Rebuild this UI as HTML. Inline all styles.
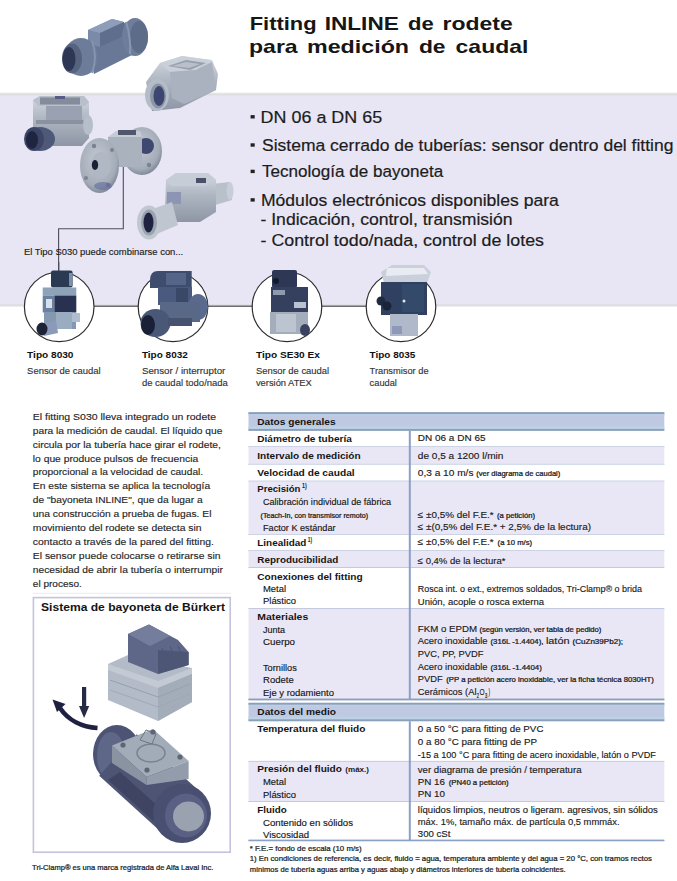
<!DOCTYPE html>
<html><head><meta charset="utf-8"><style>
html,body{margin:0;padding:0;background:#fff;}
svg{display:block;}
text{font-family:"Liberation Sans",sans-serif;}
</style></head><body>
<svg width="677" height="881" viewBox="0 0 677 881">
<defs>
<linearGradient id="gtop" x1="0" y1="0" x2="0" y2="1"><stop offset="0" stop-color="#ffffff"/><stop offset="0.5" stop-color="#dcdcdc"/><stop offset="1" stop-color="#e6e4f2"/></linearGradient>
<linearGradient id="gbot" x1="0" y1="0" x2="0" y2="1"><stop offset="0" stop-color="#e2e0ee"/><stop offset="0.4" stop-color="#dddddd"/><stop offset="1" stop-color="#ffffff"/></linearGradient>
</defs>
<rect width="677" height="881" fill="#fff"/>
<!-- lavender band -->
<rect x="0" y="92" width="677" height="4" fill="url(#gtop)"/>
<rect x="0" y="96" width="677" height="208" fill="#e8e6f4"/>
<rect x="0" y="304" width="677" height="3.5" fill="url(#gbot)"/>
<defs>
<linearGradient id="pvc" x1="0" y1="0" x2="0" y2="1"><stop offset="0" stop-color="#8494b0"/><stop offset="0.5" stop-color="#6a7a98"/><stop offset="1" stop-color="#4e5c7a"/></linearGradient>
<linearGradient id="ss" x1="0" y1="0" x2="0" y2="1"><stop offset="0" stop-color="#d4dae2"/><stop offset="0.45" stop-color="#aeb6c2"/><stop offset="1" stop-color="#8e96a6"/></linearGradient>
<linearGradient id="ssh" x1="0" y1="0" x2="1" y2="0"><stop offset="0" stop-color="#9aa2b0"/><stop offset="0.5" stop-color="#c8cfd8"/><stop offset="1" stop-color="#9098a8"/></linearGradient>
<linearGradient id="dk" x1="0" y1="0" x2="0" y2="1"><stop offset="0" stop-color="#45506e"/><stop offset="1" stop-color="#2a3250"/></linearGradient>
<radialGradient id="flange" cx="0.45" cy="0.4" r="0.6"><stop offset="0" stop-color="#c4cad4"/><stop offset="0.8" stop-color="#a4acb8"/><stop offset="1" stop-color="#838b9a"/></radialGradient>
<linearGradient id="grey" x1="0" y1="0" x2="0" y2="1"><stop offset="0" stop-color="#ccd0da"/><stop offset="1" stop-color="#a8aebc"/></linearGradient>
<linearGradient id="slate" x1="0" y1="0" x2="1" y2="1"><stop offset="0" stop-color="#6a7090"/><stop offset="1" stop-color="#4a5070"/></linearGradient>
</defs>
<g id="f1">
<path d="M86,42 L126,22 L134,54 L94,74 Z" fill="#687896"/>
<path d="M88,30 L112,19 L124,22 L124,36 L100,47 L88,44 Z" fill="#7a8aa8"/>
<path d="M88,30 L112,19 L124,22 L100,33 Z" fill="#8e9eba"/>
<path d="M100,33 L124,22 L124,36 L100,47 Z" fill="#5e6e8c"/>
<ellipse cx="135" cy="37" rx="13" ry="19" fill="#6d7d9b"/>
<ellipse cx="139" cy="37" rx="9" ry="16" fill="#5d6c89"/>
<path d="M126,22 Q131,37 130,54" fill="none" stroke="#8797b3" stroke-width="2"/>
<ellipse cx="81" cy="57" rx="17" ry="19" fill="#6c7c99"/>
<path d="M92,41 Q98,57 92,73" fill="none" stroke="#8595b1" stroke-width="2"/>
<ellipse cx="72" cy="58.5" rx="10" ry="15" fill="#55637f"/>
<ellipse cx="69" cy="59" rx="6.5" ry="12" fill="#2f3756"/>
</g>
<g id="f2">
<path d="M146,82 L160,63 L182,56 L212,60 L218,74 L216,90 L180,108 L152,111 Z" fill="url(#ss)"/>
<path d="M160,63 L182,56 L210,60 L196,70 L170,72 Z" fill="#c9d0d9"/>
<path d="M170,72 L196,70 L212,62 L216,90 L184,104 L172,98 Z" fill="#aab2bf"/>
<path d="M168,66 L186,60 L206,63 L190,70 Z" fill="#98a0ae"/>
<path d="M172,66 L186,62 L200,64 L189,68 Z" fill="#b9c0ca"/>
<ellipse cx="157" cy="95" rx="12" ry="16" fill="#b4bcc8"/>
<ellipse cx="158" cy="96" rx="8" ry="12.5" fill="#8c94a6"/>
<ellipse cx="159" cy="96" rx="5.5" ry="10" fill="#3c4670"/>
</g>
<g id="f3">
<path d="M33,100 L40,96 L84,96 L89,102 L89,138 L82,146 L40,146 L33,140 Z" fill="url(#ss)"/>
<path d="M33,100 L40,96 L84,96 L89,102 L85,106 L38,106 Z" fill="#b9c0cb"/>
<rect x="40" y="97.5" width="40" height="7" fill="#6e7688" opacity="0.7"/>
<rect x="55" y="96" width="10" height="3" fill="#5a5a86"/>
<rect x="46" y="106" width="36" height="14" fill="#9aa2b2"/>
<rect x="36" y="120" width="50" height="4" fill="#8a92a2"/>
<ellipse cx="88" cy="125" rx="5" ry="10" fill="#b6bec9"/>
<ellipse cx="40" cy="139" rx="15" ry="12" fill="#4e5878"/>
<ellipse cx="34" cy="139" rx="10" ry="12" fill="#3c4566"/>
<ellipse cx="32" cy="140" rx="6" ry="9" fill="#1f2540"/>
</g>
<g id="f4">
<ellipse cx="142" cy="151" rx="20" ry="24" fill="url(#flange)"/>
<ellipse cx="146" cy="146" rx="8" ry="8" fill="#3e4870"/>
<rect x="108" y="137" width="34" height="30" fill="#aab2be"/>
<path d="M108,137 L116,131 L140,131 L142,137 Z" fill="#c4cbd5"/>
<rect x="118" y="130" width="18" height="5" fill="#50586e"/>
<ellipse cx="99.5" cy="165.5" rx="19.5" ry="27.5" fill="url(#flange)"/>
<ellipse cx="101" cy="165" rx="10" ry="13" fill="#b0b8c4"/>
<ellipse cx="95" cy="165" rx="3.2" ry="5" fill="#1c2034"/>
<circle cx="94" cy="146" r="2.2" fill="#7a8294"/><circle cx="108" cy="185" r="2.2" fill="#6a7080"/>
<circle cx="86" cy="178" r="2" fill="#7a8294"/><circle cx="112" cy="150" r="2" fill="#7a8294"/>
<ellipse cx="103" cy="186" rx="9" ry="4" fill="#6a74a0" opacity="0.7"/>
<circle cx="149" cy="165" r="2.2" fill="#7a8294"/>
</g>
<g id="f5">
<path d="M212,184 L230,182 L232,200 L212,206 Z" fill="#b8c0ca"/>
<ellipse cx="230" cy="191" rx="3.5" ry="9" fill="#c8ced8"/>
<path d="M166,180 L176,173 L208,173 L216,180 L216,212 L200,222 L170,222 L165,214 Z" fill="url(#ss)"/>
<path d="M166,180 L176,173 L208,173 L216,180 L206,186 L172,186 Z" fill="#c6cdd6"/>
<rect x="196" y="178" width="10" height="5" fill="#4a5068"/>
<rect x="167" y="192" width="14" height="12" fill="#8c96b4"/>
<path d="M150,210 L172,202 L178,225 L152,236 Z" fill="#bfc6cf"/>
<ellipse cx="149" cy="222.5" rx="12" ry="17" fill="#c0c7d0"/>
<ellipse cx="149" cy="222.5" rx="8" ry="13" fill="#9aa2b0"/>
<ellipse cx="148.5" cy="222.5" rx="5" ry="10" fill="#1e2440"/>
</g>
<path d="M123.3,167 V228.8 H58.6 V272" fill="none" stroke="#4d4d5c" stroke-width="1.1"/>
<rect x="250.6" y="115.1" width="4.1" height="3.4" fill="#222"/>
<rect x="250.6" y="143.3" width="4.1" height="3.4" fill="#222"/>
<rect x="250.6" y="169.7" width="4.1" height="3.4" fill="#222"/>
<rect x="250.6" y="198.2" width="4.1" height="3.4" fill="#222"/>
<line x1="93" y1="306.2" x2="139" y2="306.2" stroke="#6e6e6e" stroke-width="1.6"/>
<line x1="207" y1="306.2" x2="253" y2="306.2" stroke="#6e6e6e" stroke-width="1.6"/>
<line x1="321" y1="306.2" x2="367" y2="306.2" stroke="#6e6e6e" stroke-width="1.6"/>
<circle cx="59.2" cy="306.8" r="34.8" fill="#ffffff" stroke="#2e2e2e" stroke-width="1.2"/>
<circle cx="173.0" cy="306.8" r="34.8" fill="#ffffff" stroke="#2e2e2e" stroke-width="1.2"/>
<circle cx="287.0" cy="306.8" r="34.8" fill="#ffffff" stroke="#2e2e2e" stroke-width="1.2"/>
<circle cx="401.0" cy="306.8" r="34.8" fill="#ffffff" stroke="#2e2e2e" stroke-width="1.2"/>
<g id="p1">
<line x1="58.8" y1="262" x2="58.8" y2="271" stroke="#4d4d5c" stroke-width="1.1"/>
<rect x="51" y="270.6" width="21.6" height="17" rx="2" fill="#2a3a52"/>
<rect x="69" y="273" width="3.6" height="13" fill="#7890a8"/>
<rect x="42.7" y="287.5" width="33.6" height="8" fill="#8ea2b8"/>
<rect x="42.7" y="295.5" width="12" height="17" fill="#6a80a0"/>
<rect x="54.5" y="295.5" width="21.8" height="17" fill="#283250"/>
<rect x="46" y="299" width="6" height="9" fill="#d8e0ea"/>
<rect x="44" y="312" width="32" height="17" fill="#8498b0"/>
<rect x="56" y="312" width="16" height="17" fill="#9aacc0"/>
<rect x="72" y="313" width="8" height="9" fill="#b0bcd0"/>
<path d="M40,324 L56,320 L58,333 L44,336 Z" fill="#8a9ab8"/>
<ellipse cx="42" cy="329" rx="5.5" ry="6.5" fill="#1e2438"/>
</g>
<g id="p2">
<path d="M150,280 Q150,271 158,271 L191.7,271 L191.7,288 L150,288 Z" fill="#3e4c6e"/>
<rect x="166" y="273" width="20" height="12" fill="#55658a"/>
<rect x="158" y="287" width="34" height="18" fill="#4a5a7e"/>
<rect x="176" y="288" width="12" height="16" fill="#3a4868"/>
<ellipse cx="198" cy="307" rx="10" ry="13" fill="#5a6a8e"/>
<rect x="160" y="302" width="40" height="20" fill="#5a6888"/>
<ellipse cx="155.5" cy="323" rx="15" ry="14" fill="#4a5878"/>
<ellipse cx="148" cy="325" rx="7" ry="10" fill="#1a2038"/>
<rect x="168" y="318" width="24" height="8" fill="#46526e"/>
</g>
<g id="p3">
<rect x="272" y="270" width="25" height="18" rx="2" fill="#2e3854"/>
<circle cx="276" cy="281" r="3" fill="#141a2c"/>
<rect x="271" y="287" width="37" height="25" fill="#34405e"/>
<rect x="273" y="290" width="12" height="5" fill="#8e9ab0"/>
<rect x="294" y="302" width="12" height="6" fill="#b8c2d0"/>
<rect x="270" y="312" width="38" height="22" fill="#a4adbc"/>
<rect x="276" y="314" width="20" height="18" fill="#bcc4d0"/>
<ellipse cx="305" cy="330" rx="5" ry="6" fill="#3a4262"/>
</g>
<g id="p4">
<path d="M381,272 L392,265 L424,265 L431,272 L427,283 L384,283 Z" fill="#c9d0dc"/>
<path d="M387,268 L424,268 L428,274 L386,276 Z" fill="#e8ecf2"/>
<rect x="381" y="282" width="46" height="33" fill="#2f4060"/>
<rect x="402" y="284" width="22" height="28" fill="#334a6a"/>
<circle cx="381" cy="301" r="4.5" fill="#1e2a40"/>
<circle cx="387" cy="306" r="4.5" fill="#1a2438"/>
<circle cx="404" cy="301" r="1.5" fill="#dfe6f0"/>
<rect x="390" y="314" width="28" height="22" fill="#b0b9ca"/>
<rect x="392" y="326" width="10" height="8" fill="#8e98b8"/>
</g>
<rect x="33.4" y="597.6" width="196.8" height="254.6" fill="#ffffff" stroke="#c3c3de" stroke-width="1.6"/>
<line x1="33" y1="593.3" x2="231" y2="593.3" stroke="#ecebf7" stroke-width="1"/>
<g id="bay">
<path d="M108,664 L128,655 L192,668 L192,702 L158,721 L108,700 Z" fill="#b2bbc7"/>
<path d="M108,664 L158,681 L192,668 L192,674 L158,688 L108,670 Z" fill="#c3cad4"/>
<path d="M158,688 L192,674 L192,702 L158,721 Z" fill="#a3adba"/>
<path d="M110,680 L158,697 L190,684" fill="none" stroke="#96a0ae" stroke-width="1"/>
<path d="M110,690 L158,707 L190,694" fill="none" stroke="#9aa4b2" stroke-width="0.8"/>
<path d="M128,634 L149,624.6 L178,640 L188.6,652 L188.6,665 L158,674 L128,662 Z" fill="#5f6788"/>
<path d="M128,634 L149,624.6 L170,636 L150,646 Z" fill="#757d9c"/>
<path d="M158,650 L188.6,652 L188.6,665 L158,674 Z" fill="#4e5676"/>
<path d="M162,648 Q168,660 164,670 M170,646 Q176,658 172,668 M178,646 Q184,657 180,667" fill="none" stroke="#4e5678" stroke-width="1"/>
<rect x="82" y="687" width="4.2" height="21" fill="#262a44"/>
<path d="M79,706 L89.2,706 L84.1,718 Z" fill="#262a44"/>
<path d="M97.5,728 C82,727 68,720 60,708" fill="none" stroke="#1e2240" stroke-width="4.6"/>
<path d="M52.5,699.5 L65.5,704 L57,712 Z" fill="#1e2240"/>
<!-- fitting body -->
<ellipse cx="117" cy="754" rx="24" ry="29" fill="#4c5374"/>
<ellipse cx="111" cy="756" rx="14" ry="24" fill="#5e6788"/>
<path d="M136.8,734.3 L202.8,794.3 L165.2,835.7 L99.2,775.7 Z" fill="#4d5474"/>
<path d="M120,772 L180,826 L170,836 L108,780 Z" fill="#3e4462"/>
<path d="M112,745.5 L153,729 L188.6,761 L146.5,777 Z" fill="#a2abb8"/>
<path d="M112,745.5 L146.5,777 L146.5,785 L112,763 Z" fill="#8a93a2"/>
<path d="M146.5,777 L188.6,761 L188.6,779 L146.5,785 Z" fill="#939cab"/>
<ellipse cx="151" cy="753" rx="14" ry="9" fill="none" stroke="#7a8292" stroke-width="1.5"/>
<path d="M140,740 L146,730 L156,734 L152,744 Z" fill="none" stroke="#6e7686" stroke-width="1"/>
<circle cx="123" cy="745" r="2.6" fill="#5e6676"/><circle cx="153" cy="732" r="2.6" fill="#5e6676"/>
<circle cx="180" cy="757" r="2.6" fill="#5e6676"/><circle cx="147" cy="770" r="2.6" fill="#5e6676"/>
<ellipse cx="182" cy="813.5" rx="29" ry="29.5" fill="#484f70"/>
<ellipse cx="186" cy="815.5" rx="21" ry="22" fill="#596084"/>
<ellipse cx="188.5" cy="816.4" rx="15.5" ry="15" fill="#9aa2b0"/>
</g>
<!-- table -->
<rect x="248.5" y="431" width="415.79999999999995" height="16" fill="#ffffff"/>
<rect x="248.5" y="446.4" width="415.79999999999995" height="1.1" fill="#a9b6d2"/>
<rect x="248.5" y="447" width="415.79999999999995" height="17.5" fill="#e9e7f5"/>
<rect x="248.5" y="463.9" width="415.79999999999995" height="1.1" fill="#a9b6d2"/>
<rect x="248.5" y="464.5" width="415.79999999999995" height="16.80000000000001" fill="#ffffff"/>
<rect x="248.5" y="480.7" width="415.79999999999995" height="1.1" fill="#a9b6d2"/>
<rect x="248.5" y="481.3" width="415.79999999999995" height="53.30000000000001" fill="#e9e7f5"/>
<rect x="248.5" y="534.0" width="415.79999999999995" height="1.1" fill="#a9b6d2"/>
<rect x="248.5" y="534.6" width="415.79999999999995" height="16.399999999999977" fill="#ffffff"/>
<rect x="248.5" y="550.4" width="415.79999999999995" height="1.1" fill="#a9b6d2"/>
<rect x="248.5" y="551" width="415.79999999999995" height="17" fill="#e9e7f5"/>
<rect x="248.5" y="567.4" width="415.79999999999995" height="1.1" fill="#a9b6d2"/>
<rect x="248.5" y="568" width="415.79999999999995" height="40.799999999999955" fill="#ffffff"/>
<rect x="248.5" y="608.1999999999999" width="415.79999999999995" height="1.1" fill="#a9b6d2"/>
<rect x="248.5" y="608.8" width="415.79999999999995" height="90.70000000000005" fill="#e9e7f5"/>
<rect x="248.5" y="698.9" width="415.79999999999995" height="1.1" fill="#a9b6d2"/>
<rect x="248.5" y="721.2" width="415.79999999999995" height="40.299999999999955" fill="#ffffff"/>
<rect x="248.5" y="760.9" width="415.79999999999995" height="1.1" fill="#a9b6d2"/>
<rect x="248.5" y="761.5" width="415.79999999999995" height="40.5" fill="#e9e7f5"/>
<rect x="248.5" y="801.4" width="415.79999999999995" height="1.1" fill="#a9b6d2"/>
<rect x="248.5" y="802" width="415.79999999999995" height="38.60000000000002" fill="#ffffff"/>
<rect x="248.5" y="840.0" width="415.79999999999995" height="1.1" fill="#a9b6d2"/>
<rect x="248.5" y="412.2" width="415.79999999999995" height="18.600000000000023" fill="#bfc9e2"/>
<rect x="248.5" y="412.2" width="415.79999999999995" height="2" fill="#8aa0b9"/>
<rect x="248.5" y="428.8" width="415.79999999999995" height="2" fill="#8aa0b9"/>
<rect x="248.5" y="414.2" width="415.79999999999995" height="1.3" fill="#b9d2e6"/>
<rect x="248.5" y="426.3" width="415.79999999999995" height="2.5" fill="#bcd2e6"/>
<rect x="248.5" y="702.8" width="415.79999999999995" height="18.40000000000009" fill="#bfc9e2"/>
<rect x="248.5" y="702.8" width="415.79999999999995" height="2" fill="#8aa0b9"/>
<rect x="248.5" y="719.2" width="415.79999999999995" height="2" fill="#8aa0b9"/>
<rect x="248.5" y="704.8" width="415.79999999999995" height="1.3" fill="#b9d2e6"/>
<rect x="248.5" y="716.7" width="415.79999999999995" height="2.5" fill="#bcd2e6"/>
<rect x="248.5" y="698.6" width="415.79999999999995" height="1.8" fill="#8aa0b9"/>
<rect x="408.8" y="430.8" width="2" height="268.7" fill="#8c9fc6"/>
<rect x="408.8" y="721.2" width="2" height="119.39999999999998" fill="#8c9fc6"/>
<rect x="248.5" y="839.6" width="415.79999999999995" height="1.6" fill="#8aa0c4"/>
<!-- text -->
<g fill="#1c1c1c">
<text x="249.75" y="29.9" font-size="19" font-weight="bold" textLength="66.85" lengthAdjust="spacingAndGlyphs" fill="#161616">Fitting</text>
<text x="324.71" y="29.9" font-size="19" font-weight="bold" textLength="74.09" lengthAdjust="spacingAndGlyphs" fill="#161616">INLINE</text>
<text x="408.00" y="29.9" font-size="19" font-weight="bold" textLength="25.76" lengthAdjust="spacingAndGlyphs" fill="#161616">de</text>
<text x="442.49" y="29.9" font-size="19" font-weight="bold" textLength="70.19" lengthAdjust="spacingAndGlyphs" fill="#161616">rodete</text>
<text x="249.09" y="52.8" font-size="19" font-weight="bold" textLength="48.59" lengthAdjust="spacingAndGlyphs" fill="#161616">para</text>
<text x="306.98" y="52.8" font-size="19" font-weight="bold" textLength="102.07" lengthAdjust="spacingAndGlyphs" fill="#161616">medición</text>
<text x="418.90" y="52.8" font-size="19" font-weight="bold" textLength="26.68" lengthAdjust="spacingAndGlyphs" fill="#161616">de</text>
<text x="455.60" y="52.8" font-size="19" font-weight="bold" textLength="72.75" lengthAdjust="spacingAndGlyphs" fill="#161616">caudal</text>
<text x="260.63" y="123.0" font-size="16.8" textLength="121.52" lengthAdjust="spacingAndGlyphs" stroke="#1c1c1c" stroke-width="0.2">DN 06 a DN 65</text>
<text x="262.00" y="150.9" font-size="16.8" textLength="411.45" lengthAdjust="spacingAndGlyphs" stroke="#1c1c1c" stroke-width="0.2">Sistema cerrado de tuberías: sensor dentro del fitting</text>
<text x="262.00" y="177.3" font-size="16.8" textLength="181.22" lengthAdjust="spacingAndGlyphs" stroke="#1c1c1c" stroke-width="0.2">Tecnología de bayoneta</text>
<text x="260.95" y="205.8" font-size="16.8" textLength="297.95" lengthAdjust="spacingAndGlyphs" stroke="#1c1c1c" stroke-width="0.2">Módulos electrónicos disponibles para</text>
<text x="260.50" y="225.4" font-size="16.8" textLength="252.05" lengthAdjust="spacingAndGlyphs" stroke="#1c1c1c" stroke-width="0.2">- Indicación, control, transmisión</text>
<text x="260.50" y="245.6" font-size="16.8" textLength="283.52" lengthAdjust="spacingAndGlyphs" stroke="#1c1c1c" stroke-width="0.2">- Control todo/nada, control de lotes</text>
<text x="24.00" y="254.6" font-size="8.6" textLength="159.22" lengthAdjust="spacingAndGlyphs" stroke="#1c1c1c" stroke-width="0.14">El Tipo S030 puede combinarse con...</text>
<text x="27.10" y="357.6" font-size="8.8" font-weight="bold" textLength="46.38" lengthAdjust="spacingAndGlyphs" fill="#111">Tipo 8030</text>
<text x="27.10" y="373.8" font-size="8.8" textLength="73.45" lengthAdjust="spacingAndGlyphs" fill="#333" stroke="#333" stroke-width="0.14">Sensor de caudal</text>
<text x="141.90" y="357.6" font-size="8.8" font-weight="bold" textLength="45.98" lengthAdjust="spacingAndGlyphs" fill="#111">Tipo 8032</text>
<text x="141.90" y="373.8" font-size="8.8" textLength="83.42" lengthAdjust="spacingAndGlyphs" fill="#333" stroke="#333" stroke-width="0.14">Sensor / interruptor</text>
<text x="141.90" y="385.8" font-size="8.8" textLength="85.98" lengthAdjust="spacingAndGlyphs" fill="#333" stroke="#333" stroke-width="0.14">de caudal todo/nada</text>
<text x="255.90" y="357.6" font-size="8.8" font-weight="bold" textLength="63.98" lengthAdjust="spacingAndGlyphs" fill="#111">Tipo SE30 Ex</text>
<text x="255.90" y="373.8" font-size="8.8" textLength="73.25" lengthAdjust="spacingAndGlyphs" fill="#333" stroke="#333" stroke-width="0.14">Sensor de caudal</text>
<text x="255.90" y="385.8" font-size="8.8" textLength="55.96" lengthAdjust="spacingAndGlyphs" fill="#333" stroke="#333" stroke-width="0.14">versión ATEX</text>
<text x="369.60" y="357.6" font-size="8.8" font-weight="bold" textLength="45.68" lengthAdjust="spacingAndGlyphs" fill="#111">Tipo 8035</text>
<text x="369.60" y="373.8" font-size="8.8" textLength="58.99" lengthAdjust="spacingAndGlyphs" fill="#333" stroke="#333" stroke-width="0.14">Transmisor de</text>
<text x="369.60" y="385.8" font-size="8.8" textLength="27.35" lengthAdjust="spacingAndGlyphs" fill="#333" stroke="#333" stroke-width="0.14">caudal</text>
<text x="32.80" y="419.6" font-size="9.6" textLength="183.27" lengthAdjust="spacingAndGlyphs" fill="#262626" stroke="#262626" stroke-width="0.14">El fitting S030 lleva integrado un rodete</text>
<text x="32.80" y="433.6" font-size="9.6" textLength="189.56" lengthAdjust="spacingAndGlyphs" fill="#262626" stroke="#262626" stroke-width="0.14">para la medición de caudal. El líquido que</text>
<text x="32.80" y="447.5" font-size="9.6" textLength="188.12" lengthAdjust="spacingAndGlyphs" fill="#262626" stroke="#262626" stroke-width="0.14">circula por la tubería hace girar el rodete,</text>
<text x="32.80" y="461.5" font-size="9.6" textLength="165.39" lengthAdjust="spacingAndGlyphs" fill="#262626" stroke="#262626" stroke-width="0.14">lo que produce pulsos de frecuencia</text>
<text x="32.80" y="475.4" font-size="9.6" textLength="170.30" lengthAdjust="spacingAndGlyphs" fill="#262626" stroke="#262626" stroke-width="0.14">proporcional a la velocidad de caudal.</text>
<text x="32.80" y="489.4" font-size="9.6" textLength="177.29" lengthAdjust="spacingAndGlyphs" fill="#262626" stroke="#262626" stroke-width="0.14">En este sistema se aplica la tecnología</text>
<text x="32.80" y="503.3" font-size="9.6" textLength="169.79" lengthAdjust="spacingAndGlyphs" fill="#262626" stroke="#262626" stroke-width="0.14">de &quot;bayoneta INLINE&quot;, que da lugar a</text>
<text x="32.80" y="517.2" font-size="9.6" textLength="178.64" lengthAdjust="spacingAndGlyphs" fill="#262626" stroke="#262626" stroke-width="0.14">una construcción a prueba de fugas. El</text>
<text x="32.80" y="531.2" font-size="9.6" textLength="168.76" lengthAdjust="spacingAndGlyphs" fill="#262626" stroke="#262626" stroke-width="0.14">movimiento del rodete se detecta sin</text>
<text x="32.80" y="545.1" font-size="9.6" textLength="181.02" lengthAdjust="spacingAndGlyphs" fill="#262626" stroke="#262626" stroke-width="0.14">contacto a través de la pared del fitting.</text>
<text x="32.80" y="559.1" font-size="9.6" textLength="187.76" lengthAdjust="spacingAndGlyphs" fill="#262626" stroke="#262626" stroke-width="0.14">El sensor puede colocarse o retirarse sin</text>
<text x="32.80" y="573.0" font-size="9.6" textLength="190.04" lengthAdjust="spacingAndGlyphs" fill="#262626" stroke="#262626" stroke-width="0.14">necesidad de abrir la tubería o interrumpir</text>
<text x="32.80" y="587.0" font-size="9.6" textLength="49.10" lengthAdjust="spacingAndGlyphs" fill="#262626" stroke="#262626" stroke-width="0.14">el proceso.</text>
<text x="41.00" y="611.4" font-size="10.6" font-weight="bold" textLength="184.06" lengthAdjust="spacingAndGlyphs" fill="#141414">Sistema de bayoneta de Bürkert</text>
<text x="32.10" y="869.9" font-size="6.9" textLength="181.31" lengthAdjust="spacingAndGlyphs" fill="#222" stroke="#222" stroke-width="0.22">Tri-Clamp® es una marca registrada de Alfa Laval Inc.</text>
<text x="257.30" y="424.8" font-size="9.3" font-weight="bold" textLength="78.29" lengthAdjust="spacingAndGlyphs" fill="#151515">Datos generales</text>
<text x="257.30" y="441.7" font-size="9.3" font-weight="bold" textLength="94.50" lengthAdjust="spacingAndGlyphs" fill="#151515">Diámetro de tubería</text>
<text x="417.80" y="441.0" font-size="9.0" textLength="67.71" lengthAdjust="spacingAndGlyphs" fill="#1a1a1a" stroke="#1a1a1a" stroke-width="0.14">DN 06 a DN 65</text>
<text x="257.30" y="458.8" font-size="9.3" font-weight="bold" textLength="103.35" lengthAdjust="spacingAndGlyphs" fill="#151515">Intervalo de medición</text>
<text x="417.80" y="459.2" font-size="9.0" textLength="85.61" lengthAdjust="spacingAndGlyphs" fill="#1a1a1a" stroke="#1a1a1a" stroke-width="0.14">de 0,5 a 1200 l/min</text>
<text x="257.30" y="475.8" font-size="9.3" font-weight="bold" textLength="97.34" lengthAdjust="spacingAndGlyphs" fill="#151515">Velocidad de caudal</text>
<text x="417.80" y="476.0" font-size="9.0" textLength="55.64" lengthAdjust="spacingAndGlyphs" fill="#1a1a1a" stroke="#1a1a1a" stroke-width="0.14">0,3 a 10 m/s</text>
<text x="476.20" y="476.0" font-size="6.3" textLength="84.12" lengthAdjust="spacingAndGlyphs" fill="#1a1a1a" stroke="#1a1a1a" stroke-width="0.22">(ver diagrama de caudal)</text>
<text x="257.30" y="492.3" font-size="9.3" font-weight="bold" textLength="43.17" lengthAdjust="spacingAndGlyphs" fill="#151515">Precisión</text>
<text x="302.00" y="488.4" font-size="6.3" font-weight="bold" textLength="4.78" lengthAdjust="spacingAndGlyphs" fill="#1a1a1a">1)</text>
<text x="263.00" y="504.6" font-size="9.0" textLength="128.01" lengthAdjust="spacingAndGlyphs" fill="#151515" stroke="#151515" stroke-width="0.14">Calibración individual de fábrica</text>
<text x="260.60" y="518.4" font-size="6.3" textLength="107.51" lengthAdjust="spacingAndGlyphs" fill="#1a1a1a" stroke="#1a1a1a" stroke-width="0.22">(Teach-In, con transmisor remoto)</text>
<text x="263.00" y="530.6" font-size="9.0" textLength="72.50" lengthAdjust="spacingAndGlyphs" fill="#151515" stroke="#151515" stroke-width="0.14">Factor K estándar</text>
<text x="417.80" y="518.0" font-size="9.0" textLength="75.85" lengthAdjust="spacingAndGlyphs" fill="#1a1a1a" stroke="#1a1a1a" stroke-width="0.14">≤ ±0,5% del F.E.*</text>
<text x="497.00" y="518.0" font-size="6.3" textLength="38.02" lengthAdjust="spacingAndGlyphs" fill="#1a1a1a" stroke="#1a1a1a" stroke-width="0.22">(a petición)</text>
<text x="417.80" y="530.0" font-size="9.0" textLength="173.20" lengthAdjust="spacingAndGlyphs" fill="#1a1a1a" stroke="#1a1a1a" stroke-width="0.14">≤ ±(0,5% del F.E.* + 2,5% de la lectura)</text>
<text x="257.30" y="545.6" font-size="9.3" font-weight="bold" textLength="48.96" lengthAdjust="spacingAndGlyphs" fill="#151515">Linealidad</text>
<text x="307.80" y="541.7" font-size="6.3" font-weight="bold" textLength="4.38" lengthAdjust="spacingAndGlyphs" fill="#1a1a1a">1)</text>
<text x="417.80" y="545.4" font-size="9.0" textLength="75.85" lengthAdjust="spacingAndGlyphs" fill="#1a1a1a" stroke="#1a1a1a" stroke-width="0.14">≤ ±0,5% del F.E.*</text>
<text x="497.60" y="545.4" font-size="6.3" textLength="34.52" lengthAdjust="spacingAndGlyphs" fill="#1a1a1a" stroke="#1a1a1a" stroke-width="0.22">(a 10 m/s)</text>
<text x="257.30" y="563.1" font-size="9.3" font-weight="bold" textLength="80.96" lengthAdjust="spacingAndGlyphs" fill="#151515">Reproducibilidad</text>
<text x="417.80" y="563.6" font-size="9.0" textLength="87.67" lengthAdjust="spacingAndGlyphs" fill="#1a1a1a" stroke="#1a1a1a" stroke-width="0.14">≤ 0,4% de la lectura*</text>
<text x="257.30" y="580.2" font-size="9.3" font-weight="bold" textLength="105.35" lengthAdjust="spacingAndGlyphs" fill="#151515">Conexiones del fitting</text>
<text x="263.00" y="592.0" font-size="9.0" textLength="23.00" lengthAdjust="spacingAndGlyphs" fill="#151515" stroke="#151515" stroke-width="0.14">Metal</text>
<text x="417.80" y="591.6" font-size="9.0" textLength="224.11" lengthAdjust="spacingAndGlyphs" fill="#1a1a1a" stroke="#1a1a1a" stroke-width="0.14">Rosca int. o ext., extremos soldados, Tri-Clamp® o brida</text>
<text x="263.00" y="604.4" font-size="9.0" textLength="33.01" lengthAdjust="spacingAndGlyphs" fill="#151515" stroke="#151515" stroke-width="0.14">Plástico</text>
<text x="417.80" y="604.9" font-size="9.0" textLength="126.21" lengthAdjust="spacingAndGlyphs" fill="#1a1a1a" stroke="#1a1a1a" stroke-width="0.14">Unión, acople o rosca externa</text>
<text x="257.30" y="619.9" font-size="9.3" font-weight="bold" textLength="50.89" lengthAdjust="spacingAndGlyphs" fill="#151515">Materiales</text>
<text x="263.00" y="632.7" font-size="9.0" textLength="22.01" lengthAdjust="spacingAndGlyphs" fill="#151515" stroke="#151515" stroke-width="0.14">Junta</text>
<text x="417.80" y="631.6" font-size="9.0" textLength="59.24" lengthAdjust="spacingAndGlyphs" fill="#1a1a1a" stroke="#1a1a1a" stroke-width="0.14">FKM o EPDM</text>
<text x="479.40" y="631.6" font-size="6.3" textLength="122.02" lengthAdjust="spacingAndGlyphs" fill="#1a1a1a" stroke="#1a1a1a" stroke-width="0.22">(según versión, ver tabla de pedido)</text>
<text x="263.00" y="645.2" font-size="9.0" textLength="32.01" lengthAdjust="spacingAndGlyphs" fill="#151515" stroke="#151515" stroke-width="0.14">Cuerpo</text>
<text x="417.80" y="644.0" font-size="9.0" textLength="69.71" lengthAdjust="spacingAndGlyphs" fill="#1a1a1a" stroke="#1a1a1a" stroke-width="0.14">Acero inoxidable</text>
<text x="490.50" y="644.0" font-size="6.3" textLength="52.89" lengthAdjust="spacingAndGlyphs" fill="#1a1a1a" stroke="#1a1a1a" stroke-width="0.22">(316L -1.4404),</text>
<text x="545.90" y="644.0" font-size="9.0" textLength="23.61" lengthAdjust="spacingAndGlyphs" fill="#1a1a1a" stroke="#1a1a1a" stroke-width="0.14">latón</text>
<text x="572.50" y="644.0" font-size="6.3" textLength="50.58" lengthAdjust="spacingAndGlyphs" fill="#1a1a1a" stroke="#1a1a1a" stroke-width="0.22">(CuZn39Pb2);</text>
<text x="417.80" y="657.0" font-size="9.0" textLength="65.58" lengthAdjust="spacingAndGlyphs" fill="#1a1a1a" stroke="#1a1a1a" stroke-width="0.14">PVC, PP, PVDF</text>
<text x="263.00" y="670.7" font-size="9.0" textLength="33.79" lengthAdjust="spacingAndGlyphs" fill="#151515" stroke="#151515" stroke-width="0.14">Tornillos</text>
<text x="417.80" y="670.4" font-size="9.0" textLength="69.71" lengthAdjust="spacingAndGlyphs" fill="#1a1a1a" stroke="#1a1a1a" stroke-width="0.14">Acero inoxidable</text>
<text x="490.50" y="670.4" font-size="6.3" textLength="51.32" lengthAdjust="spacingAndGlyphs" fill="#1a1a1a" stroke="#1a1a1a" stroke-width="0.22">(316L -1.4404)</text>
<text x="263.00" y="683.2" font-size="9.0" textLength="30.71" lengthAdjust="spacingAndGlyphs" fill="#151515" stroke="#151515" stroke-width="0.14">Rodete</text>
<text x="417.80" y="682.4" font-size="9.0" textLength="24.88" lengthAdjust="spacingAndGlyphs" fill="#1a1a1a" stroke="#1a1a1a" stroke-width="0.14">PVDF</text>
<text x="446.20" y="682.4" font-size="6.3" textLength="207.62" lengthAdjust="spacingAndGlyphs" fill="#1a1a1a" stroke="#1a1a1a" stroke-width="0.22">(PP a petición acero inoxidable, ver la ficha técnica 8030HT)</text>
<text x="263.00" y="696.0" font-size="9.0" textLength="71.01" lengthAdjust="spacingAndGlyphs" fill="#151515" stroke="#151515" stroke-width="0.14">Eje y rodamiento</text>
<text x="417.80" y="694.8" font-size="9.0" textLength="58.70" lengthAdjust="spacingAndGlyphs" fill="#1a1a1a" stroke="#1a1a1a" stroke-width="0.14">Cerámicos (Al</text>
<text x="476.80" y="697.8" font-size="6.3" textLength="2.19" lengthAdjust="spacingAndGlyphs" fill="#1a1a1a" stroke="#1a1a1a" stroke-width="0.22">2</text>
<text x="479.60" y="694.8" font-size="9.0" textLength="5.10" lengthAdjust="spacingAndGlyphs" fill="#1a1a1a" stroke="#1a1a1a" stroke-width="0.14">O</text>
<text x="485.00" y="697.8" font-size="6.3" textLength="2.28" lengthAdjust="spacingAndGlyphs" fill="#1a1a1a" stroke="#1a1a1a" stroke-width="0.22">3</text>
<text x="488.40" y="694.8" font-size="9.0" textLength="1.60" lengthAdjust="spacingAndGlyphs" fill="#1a1a1a" stroke="#1a1a1a" stroke-width="0.14">)</text>
<text x="257.30" y="715.1" font-size="9.3" font-weight="bold" textLength="78.65" lengthAdjust="spacingAndGlyphs" fill="#151515">Datos del medio</text>
<text x="257.30" y="732.3" font-size="9.3" font-weight="bold" textLength="108.15" lengthAdjust="spacingAndGlyphs" fill="#151515">Temperatura del fluido</text>
<text x="417.80" y="732.0" font-size="9.0" textLength="125.66" lengthAdjust="spacingAndGlyphs" fill="#1a1a1a" stroke="#1a1a1a" stroke-width="0.14">0 a 50 °C para fitting de PVC</text>
<text x="417.80" y="745.0" font-size="9.0" textLength="119.20" lengthAdjust="spacingAndGlyphs" fill="#1a1a1a" stroke="#1a1a1a" stroke-width="0.14">0 a 80 °C para fitting de PP</text>
<text x="417.80" y="757.6" font-size="9.0" textLength="238.09" lengthAdjust="spacingAndGlyphs" fill="#1a1a1a" stroke="#1a1a1a" stroke-width="0.14">-15 a 100 °C para fitting de acero inoxidable, latón o PVDF</text>
<text x="257.30" y="772.3" font-size="9.3" font-weight="bold" textLength="84.65" lengthAdjust="spacingAndGlyphs" fill="#151515">Presión del fluido</text>
<text x="345.30" y="772.3" font-size="6.3" font-weight="bold" textLength="23.72" lengthAdjust="spacingAndGlyphs" fill="#1a1a1a">(máx.)</text>
<text x="417.80" y="772.6" font-size="9.0" textLength="163.71" lengthAdjust="spacingAndGlyphs" fill="#1a1a1a" stroke="#1a1a1a" stroke-width="0.14">ver diagrama de presión / temperatura</text>
<text x="263.00" y="784.8" font-size="9.0" textLength="23.00" lengthAdjust="spacingAndGlyphs" fill="#151515" stroke="#151515" stroke-width="0.14">Metal</text>
<text x="417.80" y="785.2" font-size="9.0" textLength="27.21" lengthAdjust="spacingAndGlyphs" fill="#1a1a1a" stroke="#1a1a1a" stroke-width="0.14">PN 16</text>
<text x="448.70" y="785.2" font-size="6.3" textLength="60.02" lengthAdjust="spacingAndGlyphs" fill="#1a1a1a" stroke="#1a1a1a" stroke-width="0.22">(PN40 a petición)</text>
<text x="263.00" y="797.8" font-size="9.0" textLength="33.01" lengthAdjust="spacingAndGlyphs" fill="#151515" stroke="#151515" stroke-width="0.14">Plástico</text>
<text x="417.80" y="797.4" font-size="9.0" textLength="27.21" lengthAdjust="spacingAndGlyphs" fill="#1a1a1a" stroke="#1a1a1a" stroke-width="0.14">PN 10</text>
<text x="257.30" y="812.7" font-size="9.3" font-weight="bold" textLength="29.36" lengthAdjust="spacingAndGlyphs" fill="#151515">Fluido</text>
<text x="417.80" y="812.8" font-size="9.0" textLength="240.07" lengthAdjust="spacingAndGlyphs" fill="#1a1a1a" stroke="#1a1a1a" stroke-width="0.14">líquidos limpios, neutros o ligeram. agresivos, sin sólidos</text>
<text x="263.00" y="825.7" font-size="9.0" textLength="89.96" lengthAdjust="spacingAndGlyphs" fill="#151515" stroke="#151515" stroke-width="0.14">Contenido en sólidos</text>
<text x="417.80" y="825.0" font-size="9.0" textLength="201.72" lengthAdjust="spacingAndGlyphs" fill="#1a1a1a" stroke="#1a1a1a" stroke-width="0.14">máx. 1%, tamaño máx. de partícula 0,5 mmmáx.</text>
<text x="263.00" y="838.0" font-size="9.0" textLength="46.01" lengthAdjust="spacingAndGlyphs" fill="#151515" stroke="#151515" stroke-width="0.14">Viscosidad</text>
<text x="417.80" y="836.9" font-size="9.0" textLength="32.67" lengthAdjust="spacingAndGlyphs" fill="#1a1a1a" stroke="#1a1a1a" stroke-width="0.14">300 cSt</text>
<text x="249.70" y="850.9" font-size="7.0" textLength="111.97" lengthAdjust="spacingAndGlyphs" fill="#222" stroke="#222" stroke-width="0.22">* F.E.= fondo de escala (10 m/s)</text>
<text x="249.70" y="861.1" font-size="7.0" textLength="402.24" lengthAdjust="spacingAndGlyphs" fill="#222" stroke="#222" stroke-width="0.22">1) En condiciones de referencia, es decir, fluido = agua, temperatura ambiente y del agua = 20 °C, con tramos rectos</text>
<text x="249.70" y="871.6" font-size="7.0" textLength="316.04" lengthAdjust="spacingAndGlyphs" fill="#222" stroke="#222" stroke-width="0.22">mínimos de tubería aguas arriba y aguas abajo y diámetros interiores de tubería coincidentes.</text>
</g>
</svg>
</body></html>
